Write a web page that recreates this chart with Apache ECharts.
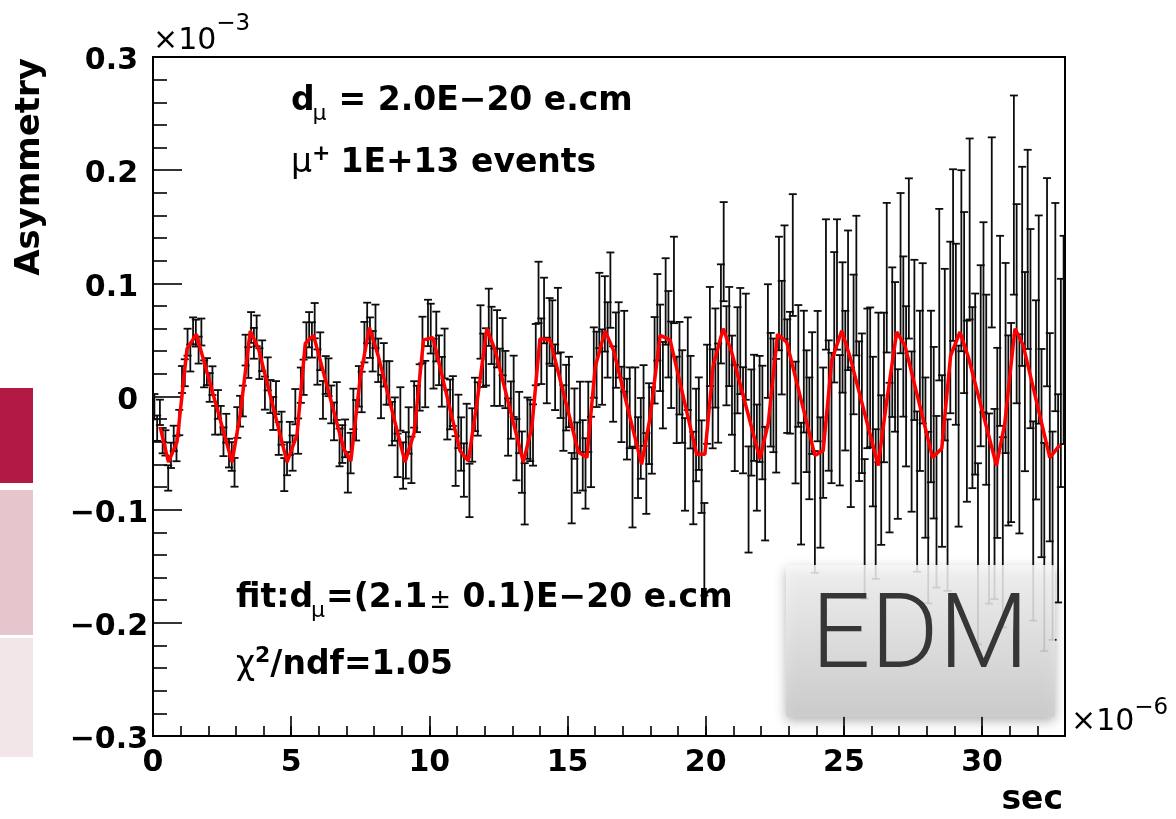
<!DOCTYPE html>
<html><head><meta charset="utf-8">
<script src="https://cdn.jsdelivr.net/npm/echarts@6/dist/echarts.min.js"></script>
<style>html,body{margin:0;padding:0;background:#fff}#c{width:1176px;height:819px}</style>
</head><body><div id="c"></div>
<script>
// ---------------- data (units: x in 1e-6 sec, y in 1e-3) ----------------
const BIN_WIDTH = 0.1;
const asymmetry = [
-0.009,-0.028,-0.014,-0.039,-0.041,-0.072,-0.052,-0.037,-0.046,-0.023,
0.015,0.021,0.048,0.034,0.058,0.056,0.041,0.057,0.020,0.022,
0.008,0.014,-0.021,-0.007,-0.021,-0.040,-0.028,-0.050,-0.053,-0.067,
-0.023,-0.013,-0.004,0.041,0.030,0.061,0.047,0.058,0.029,0.036,
0.003,0.020,0.000,-0.015,-0.001,-0.037,-0.028,-0.069,-0.055,-0.037,
-0.050,-0.009,-0.035,0.010,0.017,0.050,0.059,0.050,0.067,0.026,
0.040,-0.003,0.019,0.017,-0.007,-0.022,-0.004,-0.045,-0.042,-0.037,
-0.067,-0.050,-0.011,-0.021,0.009,0.004,0.048,0.065,0.052,0.040,
0.062,0.032,0.000,0.028,0.012,0.012,-0.024,-0.020,-0.052,-0.011,
-0.061,-0.052,-0.030,-0.056,-0.007,-0.011,0.008,0.050,0.011,0.065,
0.060,0.029,0.053,0.032,0.013,0.038,-0.016,-0.007,-0.004,-0.057,
-0.022,-0.042,-0.065,-0.030,-0.083,-0.034,-0.007,-0.011,0.057,0.032,
0.035,0.070,0.054,0.017,0.051,0.017,0.044,0.015,-0.027,-0.012,
0.009,-0.047,-0.023,-0.058,-0.086,-0.028,-0.030,-0.034,0.037,0.092,
0.040,0.076,0.023,0.058,0.056,0.017,0.067,0.010,-0.019,-0.001,
0.004,-0.081,-0.024,-0.054,-0.018,-0.052,-0.068,-0.018,-0.049,0.030,
0.024,0.076,0.026,0.073,0.050,0.094,0.011,0.041,0.050,-0.007,
0.040,-0.020,-0.010,-0.080,-0.010,-0.054,-0.037,-0.008,-0.068,-0.024,
-0.030,0.032,0.070,0.043,0.010,0.084,0.055,0.028,0.103,-0.003,
0.025,0.000,-0.060,0.029,-0.005,-0.072,-0.034,-0.024,-0.062,-0.135,
0.002,0.053,-0.002,0.034,0.003,0.073,0.128,0.036,0.053,0.010,
-0.019,0.032,0.049,-0.021,0.044,-0.091,-0.023,-0.010,-0.054,-0.011,
-0.023,-0.077,0.049,0.006,0.001,-0.017,0.091,0.052,0.101,0.018,
0.021,0.125,-0.023,0.027,-0.077,0.022,-0.013,-0.037,0.003,-0.102,
0.018,-0.076,-0.032,0.099,-0.008,-0.019,0.070,0.099,-0.021,0.061,
0.014,0.085,-0.036,0.046,0.098,-0.013,-0.006,-0.117,0.016,0.017,
-0.031,-0.095,0.008,-0.065,0.008,0.105,-0.054,0.048,0.035,-0.042,
0.109,0.053,0.009,0.122,-0.031,0.050,-0.084,0.005,0.047,-0.054,
-0.107,0.000,-0.032,-0.093,0.090,-0.057,0.037,-0.096,0.061,0.125,
0.055,-0.035,0.120,0.083,-0.013,0.148,-0.001,0.011,-0.139,0.036,
0.070,0.006,-0.099,0.145,-0.095,-0.041,0.058,-0.120,0.034,-0.030,
-0.023,0.178,0.082,-0.033,0.115,0.022,0.130,0.060,-0.110,-0.003,
0.068,-0.050,-0.133,0.101,-0.036,-0.123,0.079,-0.090,0.012,0.050
];
// statistical error of a bin, one value per microsecond
const errPerMicrosecond = [0.0112,0.0119,0.0127,0.0136,0.0146,0.0156,0.0167,0.0179,0.0192,0.0205,
0.0220,0.0236,0.0253,0.0271,0.0290,0.0311,0.0333,0.0357,0.0382,0.0409,0.0438,0.0469,0.0502,
0.0538,0.0576,0.0617,0.0661,0.0708,0.0758,0.0800,0.0840,0.0880,0.0920];
// fit curve vertices as drawn
const fitT = [0.26,0.56,0.87,1.23,1.57,2.86,3.16,3.52,3.82,4.85,5.21,5.51,5.81,6.90,7.16,7.50,7.83,8.16,9.12,9.45,9.79,10.13,
11.11,11.41,11.72,12.08,12.38,13.40,13.71,14.00,14.37,15.39,15.70,16.00,16.36,16.66,17.68,17.99,18.35,18.71,19.67,19.97,
20.27,20.63,20.93,21.96,22.26,22.60,22.93,23.95,24.25,24.56,24.92,25.22,26.24,26.55,26.91,27.21,28.21,28.54,28.86,29.20,
29.50,30.52,30.82,31.19,31.49,32.45,32.81];
const fitY = [-0.027,-0.058,-0.040,0.042,0.055,-0.058,-0.015,0.058,0.042,-0.058,-0.034,0.047,0.054,-0.046,-0.057,0.017,0.061,0.035,
-0.058,-0.032,0.050,0.052,-0.048,-0.057,-0.006,0.060,0.041,-0.058,-0.027,0.051,0.050,-0.049,-0.054,0.026,0.058,0.041,-0.060,
-0.018,0.054,0.050,-0.051,-0.051,0.027,0.060,0.040,-0.055,-0.024,0.055,0.048,-0.052,-0.048,0.032,0.058,0.035,-0.061,-0.004,
0.057,0.045,-0.054,-0.046,0.036,0.057,0.035,-0.061,-0.024,0.060,0.045,-0.054,-0.043];
const X_MIN = 0, X_MAX = 33, X_MAJOR = 5;
const Y_MIN = -0.3, Y_MAX = 0.3, Y_MAJOR = 0.1;

// ---------------- build ----------------
const points = asymmetry.map((a, i) => {
  const t = (i + 0.5) * BIN_WIDTH;
  return [t, a, errPerMicrosecond[Math.min(errPerMicrosecond.length - 1, Math.floor(t))]];
});
const fitLine = fitT.map((t, i) => [t, fitY[i]]);

const FONT = '"DejaVu Sans"';
const mctx = document.createElement('canvas').getContext('2d');
function txt(x, baseline, s, size, bold, extra) {
  const font = (bold ? 'bold ' : '') + size + 'px ' + FONT;
  return Object.assign({
    type: 'text', x: x, y: baseline - 0.346 * size, z: 60,
    style: { text: s, font: font, fill: '#000', textAlign: 'left', textVerticalAlign: 'middle', align: 'left', verticalAlign: 'middle' }
  }, extra || {});
}
function latex(x0, baseline, segs) {
  let x = x0; const out = [];
  segs.forEach(sg => {
    x += (sg.gap || 0);
    out.push(txt(x, baseline + (sg.dy || 0), sg.t, sg.size, sg.bold));
    mctx.font = (sg.bold ? 'bold ' : '') + sg.size + 'px ' + FONT;
    x += mctx.measureText(sg.t).width;
  });
  return out;
}

const graphics = [];
// side colour blocks
graphics.push({ type: 'rect', shape: { x: 0, y: 388, width: 33, height: 95 }, style: { fill: '#b21a44' }, z: 1 });
graphics.push({ type: 'rect', shape: { x: 0, y: 490, width: 33, height: 145 }, style: { fill: '#e6c6cc' }, z: 1 });
graphics.push({ type: 'rect', shape: { x: 0, y: 638, width: 33, height: 119 }, style: { fill: '#f3e6e9' }, z: 1 });
// texts
graphics.push(...latex(291, 113, [
  { t: 'd', size: 33, bold: true },
  { t: 'μ', size: 22, bold: false, dy: 9, gap: -2 },
  { t: '= 2.0E\u221220 e.cm', size: 33, bold: true, gap: 12 }
]));
graphics.push(...latex(291, 175, [
  { t: 'μ', size: 33, bold: false },
  { t: '+', size: 22, bold: true, dy: -13 },
  { t: '1E+13 events', size: 33, bold: true, gap: 10 }
]));
graphics.push(...latex(236, 610, [
  { t: 'fit:d', size: 33, bold: true },
  { t: 'μ', size: 22, bold: false, dy: 9, gap: -2 },
  { t: '=(2.1', size: 33, bold: true, gap: 1 },
  { t: '±', size: 26, bold: false, gap: 2 },
  { t: ' 0.1)E\u221220 e.cm', size: 33, bold: true }
]));
graphics.push(...latex(236, 677, [
  { t: 'χ', size: 33, bold: false },
  { t: '2', size: 22, bold: true, dy: -13 },
  { t: '/ndf=1.05', size: 33, bold: true }
]));
// axis multipliers and titles
graphics.push(...latex(153, 52, [
  { t: '×10', size: 30, bold: false },
  { t: '\u22123', size: 23, bold: false, dy: -20 }
]));
graphics.push(...latex(1071, 733, [
  { t: '×10', size: 30, bold: false },
  { t: '\u22126', size: 23, bold: false, dy: -17 }
]));
graphics.push({
  type: 'text', x: 1063, y: 812 - 0.346 * 33, z: 60,
  style: { text: 'sec', font: 'bold 33px ' + FONT, fill: '#000', textAlign: 'right', textVerticalAlign: 'middle', align: 'right', verticalAlign: 'middle' }
});
graphics.push({
  type: 'text', x: 30, y: 58, rotation: Math.PI / 2, z: 60,
  style: { text: 'Asymmetry', font: 'bold 34px ' + FONT, fill: '#000', textAlign: 'right', textVerticalAlign: 'middle', align: 'right', verticalAlign: 'middle' }
});
// EDM badge
graphics.push({
  type: 'rect', z: 80,
  shape: { x: 786, y: 565, width: 269, height: 152, r: 3 },
  style: {
    fill: new echarts.graphic.LinearGradient(0, 0, 0, 1, [
      { offset: 0, color: 'rgba(249,249,249,0.84)' },
      { offset: 1, color: 'rgba(206,206,206,0.86)' }
    ]),
    shadowBlur: 12, shadowOffsetX: 0, shadowOffsetY: 4, shadowColor: 'rgba(0,0,0,0.35)'
  }
});
graphics.push({
  type: 'text', x: 920, y: 677 - 0.342 * 104, z: 81,
  style: { text: 'EDM', font: '300 104px Roboto, Lato, "Open Sans", sans-serif', fill: '#363636', textAlign: 'center', textVerticalAlign: 'middle', align: 'center', verticalAlign: 'middle' }
});

const labelFont = { fontFamily: FONT, fontWeight: 'bold', fontSize: 30, color: '#000' };
const tickLine = { color: '#000', width: 1.6 };

const option = {
  animation: false,
  backgroundColor: '#fff',
  textStyle: { fontFamily: FONT },
  grid: { left: 153, top: 57, width: 912, height: 679, show: true, borderColor: '#000', borderWidth: 2, backgroundColor: 'transparent' },
  xAxis: [{
    type: 'value', min: X_MIN, max: X_MAX, interval: X_MAJOR,
    axisLine: { show: true, onZero: false, lineStyle: { color: '#000', width: 2 } },
    axisTick: { show: true, inside: true, length: 20, lineStyle: tickLine },
    axisLabel: Object.assign({ margin: 12, formatter: v => (Math.abs(v % X_MAJOR) < 1e-9 ? String(v) : '') }, labelFont),
    splitLine: { show: false }
  }, {
    type: 'value', min: X_MIN, max: X_MAX, interval: 1, position: 'bottom', offset: 0,
    axisLine: { show: false, onZero: false },
    axisTick: { show: true, inside: true, length: 10, lineStyle: tickLine },
    axisLabel: { show: false }, splitLine: { show: false }
  }],
  yAxis: {
    type: 'value', min: Y_MIN, max: Y_MAX, interval: Y_MAJOR,
    axisLine: { show: true, onZero: false, lineStyle: { color: '#000', width: 2 } },
    axisTick: { show: true, inside: true, length: 29, lineStyle: tickLine },
    minorTick: { show: true, splitNumber: 5, length: 14, lineStyle: tickLine },
    splitLine: { show: false },
    axisLabel: Object.assign({
      margin: 5,
      formatter: v => {
        const r = Math.round(v * 10) / 10;
        const s = r === 0 ? '0' : (r < 0 ? '\u2212' + Math.abs(r).toFixed(1) : r.toFixed(1));
        return r < 0 ? '{n|' + s + '}' : '{p|' + s + '}';
      },
      rich: {
        n: Object.assign({ padding: [9, 0, 0, 0] }, labelFont),
        p: Object.assign({ padding: [9, 10, 0, 0] }, labelFont)
      }
    }, labelFont)
  },
  series: [{
    type: 'custom', xAxisIndex: 0, yAxisIndex: 0, z: 2, clip: true,
    data: points,
    encode: { x: 0, y: 1 },
    renderItem: (params, api) => {
      const t = api.value(0), y = api.value(1), e = api.value(2);
      const top = api.coord([t, y + e]);
      const bot = api.coord([t, y - e]);
      const hw = 4;
      const st = { stroke: '#0d0d0d', lineWidth: 1.8 };
      return {
        type: 'group', children: [
          { type: 'line', shape: { x1: top[0], y1: top[1], x2: bot[0], y2: bot[1] }, style: st },
          { type: 'line', shape: { x1: top[0] - hw, y1: top[1], x2: top[0] + hw, y2: top[1] }, style: st },
          { type: 'line', shape: { x1: bot[0] - hw, y1: bot[1], x2: bot[0] + hw, y2: bot[1] }, style: st }
        ]
      };
    }
  }, {
    type: 'line', xAxisIndex: 0, yAxisIndex: 0, z: 3,
    data: fitLine, showSymbol: false, symbol: 'none',
    lineStyle: { color: '#ff0000', width: 3.5 }
  }],
  graphic: { elements: graphics }
};
const chart = echarts.init(document.getElementById('c'), null, { renderer: 'canvas' });
chart.setOption(option);
</script></body></html>
